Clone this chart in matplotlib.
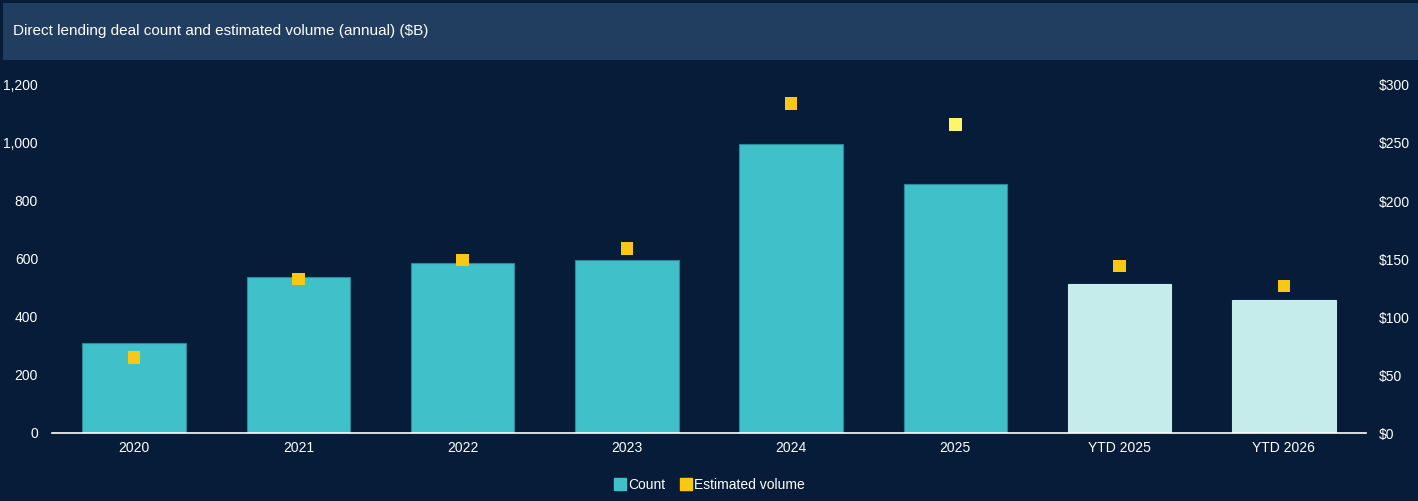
import numpy as np
import matplotlib.pyplot as plt
from matplotlib.lines import Line2D
from matplotlib.patches import Rectangle

plt.rcParams['font.family'] = ['Liberation Sans', 'DejaVu Sans']

# data
categories = ['2020', '2021', '2022', '2023', '2024', '2025', 'YTD 2025', 'YTD 2026']
deal_count = [310, 538, 586, 597, 995, 859, 514, 459]
est_volume = [65, 133, 149, 159, 284, 266, 144, 127]

bg = '#061c38'
teal = '#40c1c9'
teal_light = '#c5ecea'
yellow = '#f8c815'
yellow_hl = '#fdf66a'

fig = plt.figure(figsize=(14.18, 5.01), dpi=100, facecolor=bg)

# title band
fig.patches.append(Rectangle((3 / 1418, 1 - 60 / 501), 1415 / 1418, 57 / 501,
                             transform=fig.transFigure, facecolor='#213d60',
                             edgecolor='none', zorder=0))
fig.text(13 / 1418, 1 - 31 / 501, 'Direct lending deal count and estimated volume (annual) ($B)',
         color='white', fontsize=11, va='center', ha='left')

ax = fig.add_axes([52 / 1418, 1 - 433 / 501, 1314 / 1418, 348 / 501])
ax.set_facecolor(bg)
x = np.arange(len(categories))
bar_colors = [teal] * 6 + [teal_light] * 2
edge_colors = ['#2b8a99'] * 6 + [teal_light] * 2
ax.bar(x, deal_count, width=0.63, color=bar_colors, edgecolor=edge_colors, linewidth=0.8, zorder=2)
ax.set_xlim(-0.5, len(categories) - 0.5)
ax.set_ylim(0, 1200)
ax.set_yticks(range(0, 1201, 200))
ax.set_yticklabels([f'{v:,}' for v in range(0, 1201, 200)])
ax.set_xticks(x)
ax.set_xticklabels(categories)

ax2 = ax.twinx()
ax2.set_ylim(0, 300)
ax2.set_yticks(range(0, 301, 50))
ax2.set_yticklabels([f'${v}' for v in range(0, 301, 50)])
vol_colors = [yellow] * len(est_volume)
vol_colors[5] = yellow_hl
ax2.scatter(x, est_volume, marker='s', s=78, c=vol_colors, linewidths=0, zorder=3)

for a in (ax, ax2):
    for s in a.spines.values():
        s.set_visible(False)
    a.tick_params(length=0, colors='white', labelsize=10)
ax.spines['bottom'].set_visible(True)
ax.spines['bottom'].set_color('white')
ax.spines['bottom'].set_linewidth(1.2)
ax.tick_params(axis='y', pad=10)
ax.tick_params(axis='x', pad=6)
ax2.tick_params(axis='y', pad=9)

handles = [Line2D([], [], marker='s', linestyle='none', color=teal, markersize=8),
           Line2D([], [], marker='s', linestyle='none', color=yellow, markersize=8)]
fig.legend(handles, ['Count', 'Estimated volume'], loc='center', bbox_to_anchor=(709 / 1418, 1 - 485 / 501),
           ncol=2, frameon=False, fontsize=10, labelcolor='white', handletextpad=0.1,
           columnspacing=1.0, handlelength=1.0)

fig.savefig('out.png', dpi=100, facecolor=bg)
